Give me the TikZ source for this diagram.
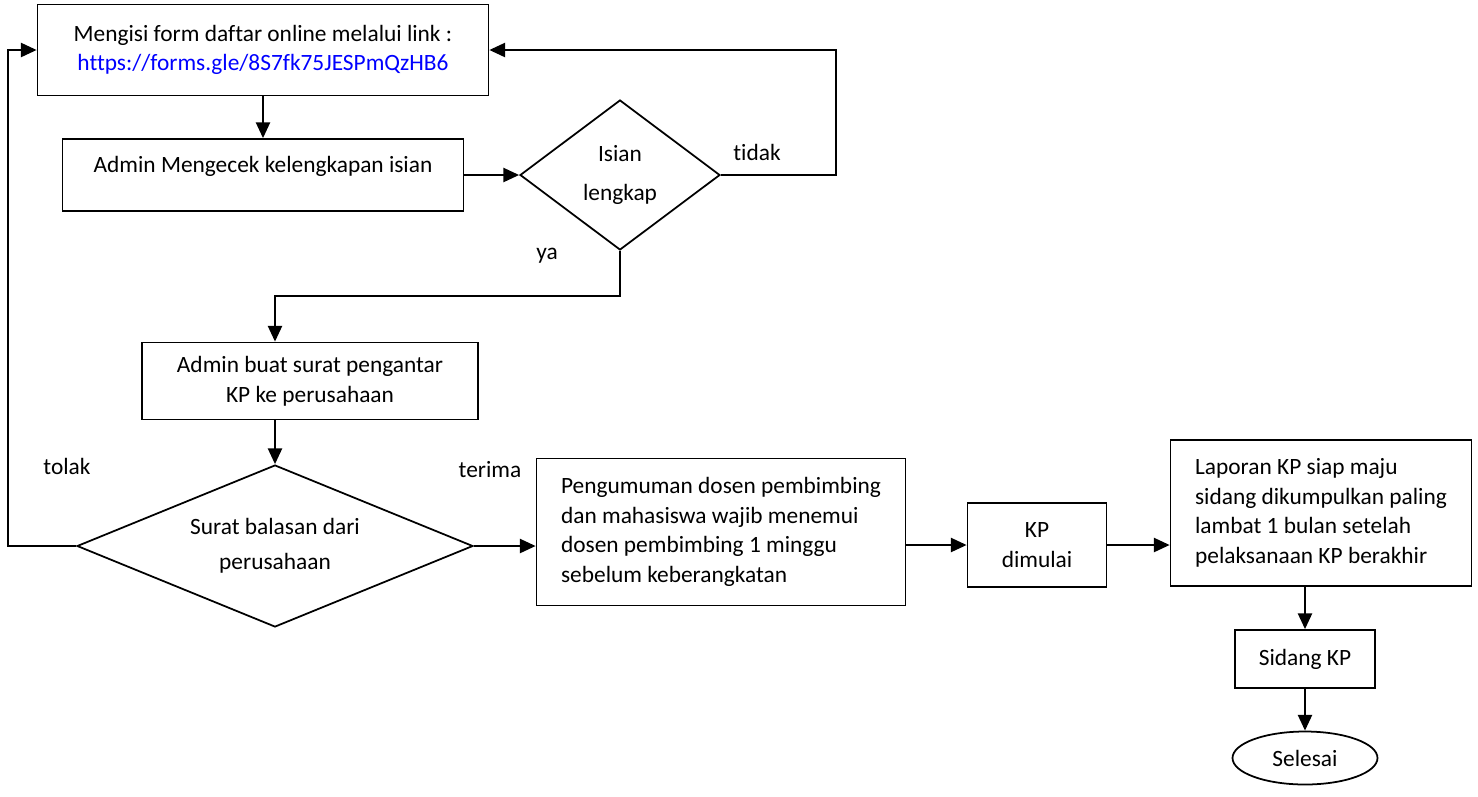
\documentclass[tikz,border=0pt]{standalone}
\usepackage{fontspec}
\setmainfont[Ligatures=NoCommon]{Carlito}
\usetikzlibrary{arrows.meta, positioning, shapes.geometric}
\tikzset{>/.tip={Triangle[length=9pt,width=8pt]}}
\tikzset{proc/.style={draw, line width=1pt, align=center, inner sep=2pt}}
\tikzset{keputusan/.style={draw, diamond, line width=1pt, align=center, inner sep=0pt}}
\tikzset{alur/.style={->, line width=1.3pt}}

\begin{document}
\begin{tikzpicture}[x=0.02cm, y=-0.02cm, font=\fontsize{13.3}{16.8}\selectfont]
\useasboundingbox (0,0) rectangle (1478,796);
\node(daftar) [proc, minimum width=9.02cm, minimum height=1.82cm] at (263,50) {Mengisi form daftar online melalui link :\\ \textcolor{blue}{https://forms.gle/8S7fk75JESPmQzHB6}};
\node(cek) [proc, minimum width=8.02cm, minimum height=1.44cm, text depth=12pt] at (263,175) {Admin Mengecek kelengkapan isian};
\node(lengkap) [keputusan, minimum width=4cm, minimum height=3cm, shape aspect=1.33] at (620,175) {Isian\\[5pt] lengkap};
\node(surat) [proc, minimum width=6.72cm, minimum height=1.54cm] at (310,381) {Admin buat surat pengantar\\ KP ke perusahaan};
\node(balasan) [keputusan, minimum width=7.92cm, minimum height=3.24cm, shape aspect=2.44] at (275,546) {Surat balasan dari\\[3pt] perusahaan};
\node(umum) [proc, align=left, minimum width=7.38cm, minimum height=2.94cm] at (721,532) {Pengumuman dosen pembimbing\\ dan mahasiswa wajib menemui\\ dosen pembimbing 1 minggu\\ sebelum keberangkatan};
\node(mulai) [proc, minimum width=2.78cm, minimum height=1.68cm] at (1037,545) {KP\\ dimulai};
\node(laporan) [proc, align=left, minimum width=6.02cm, minimum height=2.92cm] at (1321,513) {Laporan KP siap maju\\ sidang dikumpulkan paling\\ lambat 1 bulan setelah\\ pelaksanaan KP berakhir};
\node(sidang) [proc, minimum width=2.8cm, minimum height=1.16cm] at (1305,659) {Sidang KP};
\node(selesai) [draw, ellipse, line width=1pt, minimum width=2.9cm, minimum height=1.06cm] at (1305,758) {Selesai};
% label cabang
\node(tidak) at (757,152) {tidak};
\node(ya) at (547,256) {ya};
\node(tolak) at (67,466) {tolak};
\node(terima) at (490,470) {terima};
% alur
\draw[alur] (daftar) -- (cek);
\draw[alur] (cek.east) -- (lengkap.west);
\draw[alur] (lengkap.east) -- ++(115,0) |- (daftar.east);
\draw[alur] (lengkap.south) -- ++(0,45) -| (surat.north -| balasan.north);
\draw[alur] (surat.south -| balasan.north) -- (balasan.north);
\draw[alur] (balasan.west) -- ++(-68,0) |- (daftar.west);
\draw[alur] (balasan.east) -- (balasan.east -| umum.west);
\draw[alur] (umum.east |- mulai) -- (mulai);
\draw[alur] (mulai.east) -- (mulai.east -| laporan.west);
\draw[alur] (laporan.south -| sidang.north) -- (sidang.north);
\draw[alur] (sidang) -- (selesai);
\end{tikzpicture}
\end{document}
